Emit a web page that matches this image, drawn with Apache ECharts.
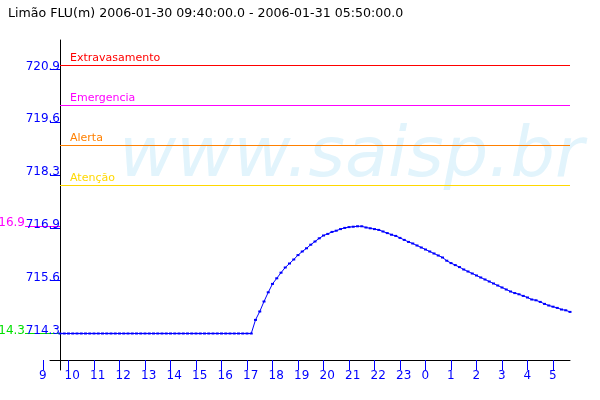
<!DOCTYPE html>
<html>
<head>
<meta charset="utf-8">
<script src="https://cdn.jsdelivr.net/npm/echarts@6/dist/echarts.min.js"></script>
<style>html,body{margin:0;padding:0;background:#fff}#c{width:600px;height:400px}</style>
</head>
<body>
<div id="c"></div>
<script>
const titleText = 'Limão FLU(m) 2006-01-30 09:40:00.0 - 2006-01-31 05:50:00.0';
const watermarkText = 'www.saisp.br';

const times = [
  '09:40','09:50',
  '10:00','10:10','10:20','10:30','10:40','10:50',
  '11:00','11:10','11:20','11:30','11:40','11:50',
  '12:00','12:10','12:20','12:30','12:40','12:50',
  '13:00','13:10','13:20','13:30','13:40','13:50',
  '14:00','14:10','14:20','14:30','14:40','14:50',
  '15:00','15:10','15:20','15:30','15:40','15:50',
  '16:00','16:10','16:20','16:30','16:40','16:50',
  '17:00','17:10','17:20','17:30','17:40','17:50',
  '18:00','18:10','18:20','18:30','18:40','18:50',
  '19:00','19:10','19:20','19:30','19:40','19:50',
  '20:00','20:10','20:20','20:30','20:40','20:50',
  '21:00','21:10','21:20','21:30','21:40','21:50',
  '22:00','22:10','22:20','22:30','22:40','22:50',
  '23:00','23:10','23:20','23:30','23:40','23:50',
  '00:00','00:10','00:20','00:30','00:40','00:50',
  '01:00','01:10','01:20','01:30','01:40','01:50',
  '02:00','02:10','02:20','02:30','02:40','02:50',
  '03:00','03:10','03:20','03:30','03:40','03:50',
  '04:00','04:10','04:20','04:30','04:40','04:50',
  '05:00','05:10','05:20','05:30','05:40'
];

const levels = [
  714.3, 714.3,
  714.3, 714.3, 714.3, 714.3, 714.3, 714.3,
  714.3, 714.3, 714.3, 714.3, 714.3, 714.3,
  714.3, 714.3, 714.3, 714.3, 714.3, 714.3,
  714.3, 714.3, 714.3, 714.3, 714.3, 714.3,
  714.3, 714.3, 714.3, 714.3, 714.3, 714.3,
  714.3, 714.3, 714.3, 714.3, 714.3, 714.3,
  714.3, 714.3, 714.3, 714.3, 714.3, 714.3,
  714.3, 714.3, 714.64, 714.85, 715.10, 715.33,
  715.54, 715.68, 715.82, 715.95, 716.05, 716.15,
  716.26, 716.35, 716.43, 716.52, 716.60, 716.68,
  716.75, 716.79, 716.84, 716.87, 716.91, 716.94,
  716.96, 716.97, 716.98, 716.98, 716.95, 716.93,
  716.91, 716.89, 716.85, 716.81, 716.77, 716.74,
  716.69, 716.64, 716.59, 716.55, 716.50, 716.45,
  716.40, 716.35, 716.30, 716.25, 716.20, 716.12,
  716.06, 716.01, 715.96, 715.90, 715.85, 715.80,
  715.75, 715.70, 715.65, 715.60, 715.55, 715.50,
  715.45, 715.40, 715.35, 715.31, 715.28, 715.24,
  715.20, 715.15, 715.13, 715.09, 715.04, 715.00,
  714.97, 714.94, 714.90, 714.88, 714.84
];

const yTickValues = [714.3, 715.62, 716.94, 718.26, 719.58, 720.9];
const hourTicks = [9,10,11,12,13,14,15,16,17,18,19,20,21,22,23,24,25,26,27,28,29];
const hourLabels = ['9','10','11','12','13','14','15','16','17','18','19','20','21','22','23','0','1','2','3','4','5'];

const thresholdNames = ['Extravasamento', 'Emergencia', 'Alerta', 'Atenção'];
const thresholdValues = [721, 720, 719, 718];
const thresholdColors = ['#ff0000', '#ff00ff', '#ff8000', '#ffd800'];

const FONT = '"DejaVu Sans", sans-serif';
const BLUE = '#0000ff';
const yMax = 721.6375, yMin = yMax - 8.25;
const vMax = Math.max(...levels), vMin = Math.min(...levels);
const trunc1 = v => (Math.floor(v * 10 + 1e-6) / 10).toFixed(1);

const chart = echarts.init(document.getElementById('c'), null, {renderer: 'canvas'});

const markerAxis = (value, color) => ({
  gridIndex: 0, type: 'value', position: 'left', offset: 0, min: yMin, max: yMax,
  axisLine: {show: false},
  axisTick: {show: true, length: 35, customValues: [value], lineStyle: {color: color, width: 1}},
  axisLabel: {show: true, customValues: [value], margin: 35, color: color, fontSize: 12, fontFamily: FONT,
    verticalAlign: 'bottom', lineHeight: 6, formatter: v => trunc1(v)},
  splitLine: {show: false}
});

const firstT = times[0], lastT = times[times.length - 1];
const thresholdSeries = thresholdValues.map((v, i) => ({
  type: 'line', xAxisIndex: 0, yAxisIndex: 0, silent: true, z: 3,
  symbol: 'circle', symbolSize: 0, showSymbol: true,
  itemStyle: {color: thresholdColors[i]},
  lineStyle: {color: thresholdColors[i], width: 1, type: 'solid'},
  emphasis: {disabled: true},
  data: [
    {value: [firstT, v], label: {show: true, position: [10, -13], align: 'left', verticalAlign: 'top',
      color: thresholdColors[i], fontSize: 11, fontFamily: FONT, formatter: thresholdNames[i]}},
    {value: [lastT, v]}
  ]
}));

const g = (l, r, t, b) => ({left: l, right: r, top: t, bottom: b, outerBoundsMode: 'none', containLabel: false});

chart.setOption({
  animation: false,
  backgroundColor: '#ffffff',
  title: {text: titleText, left: 3, top: 2,
    textStyle: {fontSize: 12.6, fontWeight: 'normal', color: '#000', fontFamily: FONT}},
  graphic: [{type: 'text', z: -10, silent: true,
    style: {x: 119, y: 158, text: watermarkText, font: 'italic 70px "DejaVu Sans"', fill: '#e2f4fc', verticalAlign: 'middle'}}],
  grid: [g(60, 30, 40, 30), g(43, 30, 40, 40), g(50, 30, 40, 40), g(39, 34, 40, 40)],
  xAxis: [
    {gridIndex: 0, type: 'category', data: times, boundaryGap: false, show: false},
    {gridIndex: 1, type: 'value', min: 9, max: 29 + 2/3,
      axisLine: {show: false},
      axisTick: {show: true, length: 10, customValues: hourTicks, lineStyle: {color: BLUE}},
      axisLabel: {show: false}, splitLine: {show: false}},
    {gridIndex: 2, type: 'value', min: 0, max: 1,
      axisLine: {show: true, lineStyle: {color: '#000', width: 1}},
      axisTick: {show: false}, axisLabel: {show: false}, splitLine: {show: false}},
    {gridIndex: 3, type: 'value', min: 9, max: 29 + 2/3,
      axisLine: {show: false}, axisTick: {show: false},
      axisLabel: {show: true, customValues: hourTicks, align: 'left', margin: 10, color: BLUE, fontSize: 12, fontFamily: FONT,
        formatter: v => hourLabels[Math.round(v) - 9]},
      splitLine: {show: false}}
  ],
  yAxis: [
    {gridIndex: 0, type: 'value', position: 'left', offset: 0, min: yMin, max: yMax,
      axisLine: {show: true, onZero: false, lineStyle: {color: '#000', width: 1}},
      axisTick: {show: true, length: 10, customValues: yTickValues, lineStyle: {color: BLUE}},
      axisLabel: {show: true, customValues: yTickValues, margin: 0, color: BLUE, fontSize: 12, fontFamily: FONT,
        verticalAlign: 'bottom', lineHeight: 6, formatter: v => v.toFixed(1)},
      splitLine: {show: false}},
    markerAxis(vMax, '#ff00ff'),
    markerAxis(vMin, '#00e000'),
    {gridIndex: 1, type: 'value', show: false},
    {gridIndex: 2, type: 'value', show: false},
    {gridIndex: 3, type: 'value', show: false}
  ],
  series: thresholdSeries.concat([{
    type: 'line', xAxisIndex: 0, yAxisIndex: 0, data: levels, z: 5,
    symbol: 'rect', symbolSize: [3, 2], showSymbol: true, showAllSymbol: true,
    itemStyle: {color: BLUE}, lineStyle: {color: BLUE, width: 1}
  }])
});
</script>
</body>
</html>
